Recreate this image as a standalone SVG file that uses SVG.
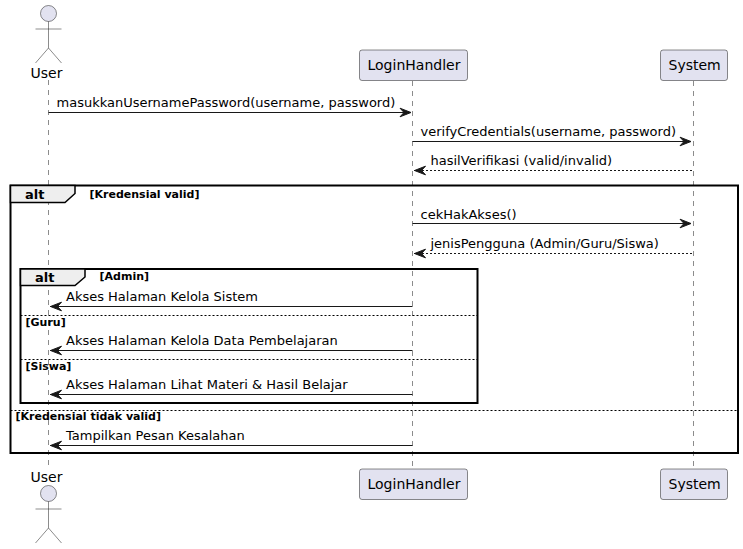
<svg xmlns="http://www.w3.org/2000/svg" width="743" height="549" viewBox="0 0 743 549">
<style>
text{font-family:"DejaVu Sans",sans-serif;fill:#000}
.p{font-size:14px}
.m{font-size:13px}
.k{font-size:13px;font-weight:bold}
.g{font-size:11px;font-weight:bold}
.box{fill:#E2E2F0;stroke:#181818;stroke-width:.5}
.life{stroke:#181818;stroke-width:.5;stroke-dasharray:5,5;fill:none}
.msg{stroke:#181818;stroke-width:1;fill:none}
.dash{stroke-dasharray:2,2}
.ah{fill:#181818;stroke:#181818;stroke-width:1}
.fr{fill:none;stroke:#000;stroke-width:2}
.tab{fill:#EEEEEE;stroke:#000;stroke-width:1.5}
.sep{stroke:#000;stroke-width:1;stroke-dasharray:2,2;fill:none}
.act{fill:none;stroke:#181818;stroke-width:.5}
</style>
<defs>
<g id="stick"><circle class="box" cx="0" cy="13.500" r="8"/><path class="act" d="M0 21.500V48M-13 29H13M0 48L-13 63M0 48L13 63"/></g>
<polygon id="ar" class="ah" points="0,0 -11,-4.300 -7,0 -11,4.300"/>
<polygon id="al" class="ah" points="0,0 11,-4.300 7,0 11,4.300"/>
</defs>
<g id="lifelines">
<line class="life" x1="48.500" y1="80" x2="48.500" y2="466"/>
<line class="life" x1="412.500" y1="81" x2="412.500" y2="469"/>
<line class="life" x1="693.500" y1="81" x2="693.500" y2="469"/>
</g>
<g id="user-top"><use href="#stick" x="48.500" y="0"/><text class="p" x="30.500" y="78">User</text></g>
<g id="loginhandler-top"><rect class="box" x="359.500" y="50" width="108" height="30.500" rx="2.500"/><text class="p" x="367.500" y="70">LoginHandler</text></g>
<g id="system-top"><rect class="box" x="660.500" y="50" width="67" height="30.500" rx="2.500"/><text class="p" x="668.500" y="70">System</text></g>
<g id="user-bottom"><text class="p" x="30.500" y="482">User</text><use href="#stick" x="48.500" y="480"/></g>
<g id="loginhandler-bottom"><rect class="box" x="359.500" y="469" width="108" height="30.500" rx="2.500"/><text class="p" x="367.500" y="489">LoginHandler</text></g>
<g id="system-bottom"><rect class="box" x="660.500" y="469" width="67" height="30.500" rx="2.500"/><text class="p" x="668.500" y="489">System</text></g>
<g id="frames">
<rect class="fr" x="10.500" y="185.500" width="727.500" height="267.500"/>
<path class="tab" d="M10.500 185.500H75V193.500L65 202.500H10.500Z"/>
<text class="k" x="25" y="199">alt</text>
<text class="g" x="89.500" y="198">[Kredensial valid]</text>
<rect class="fr" x="20.500" y="269" width="457" height="134"/>
<path class="tab" d="M20.500 269H85V277L75 285.500H20.500Z"/>
<text class="k" x="35" y="282">alt</text>
<text class="g" x="99.500" y="279.500">[Admin]</text>
<line class="sep" x1="20.500" y1="315.500" x2="477.500" y2="315.500"/>
<text class="g" x="25.500" y="326">[Guru]</text>
<line class="sep" x1="20.500" y1="359.500" x2="477.500" y2="359.500"/>
<text class="g" x="25.500" y="370">[Siswa]</text>
<line class="sep" x1="10.500" y1="410.500" x2="738" y2="410.500"/>
<text class="g" x="15.500" y="420">[Kredensial tidak valid]</text>
</g>
<g id="connectors">
<line class="msg" x1="48.500" y1="112.500" x2="410" y2="112.500"/><use href="#ar" x="411" y="112.500"/>
<text class="m" x="56.500" y="107">masukkanUsernamePassword(username, password)</text>
<line class="msg" x1="412.500" y1="141.500" x2="691" y2="141.500"/><use href="#ar" x="691" y="141.500"/>
<text class="m" x="420.500" y="136">verifyCredentials(username, password)</text>
<line class="msg dash" x1="414" y1="170.500" x2="693.500" y2="170.500"/><use href="#al" x="414.500" y="170.500"/>
<text class="m" x="430.500" y="165">hasilVerifikasi (valid/invalid)</text>
<line class="msg" x1="412.500" y1="223.500" x2="691" y2="223.500"/><use href="#ar" x="691" y="223.500"/>
<text class="m" x="420.500" y="219">cekHakAkses()</text>
<line class="msg dash" x1="414" y1="253.500" x2="693.500" y2="253.500"/><use href="#al" x="414.500" y="253.500"/>
<text class="m" x="430.500" y="248">jenisPengguna (Admin/Guru/Siswa)</text>
<line class="msg" x1="50" y1="306.500" x2="412.500" y2="306.500"/><use href="#al" x="50.500" y="306.500"/>
<text class="m" x="66" y="301">Akses Halaman Kelola Sistem</text>
<line class="msg" x1="50" y1="350.500" x2="412.500" y2="350.500"/><use href="#al" x="50.500" y="350.500"/>
<text class="m" x="66" y="345">Akses Halaman Kelola Data Pembelajaran</text>
<line class="msg" x1="50" y1="394.500" x2="412.500" y2="394.500"/><use href="#al" x="50.500" y="394.500"/>
<text class="m" x="66" y="389">Akses Halaman Lihat Materi &amp; Hasil Belajar</text>
<line class="msg" x1="50" y1="445.500" x2="412.500" y2="445.500"/><use href="#al" x="50.500" y="445.500"/>
<text class="m" x="66" y="440">Tampilkan Pesan Kesalahan</text>
</g>
</svg>
